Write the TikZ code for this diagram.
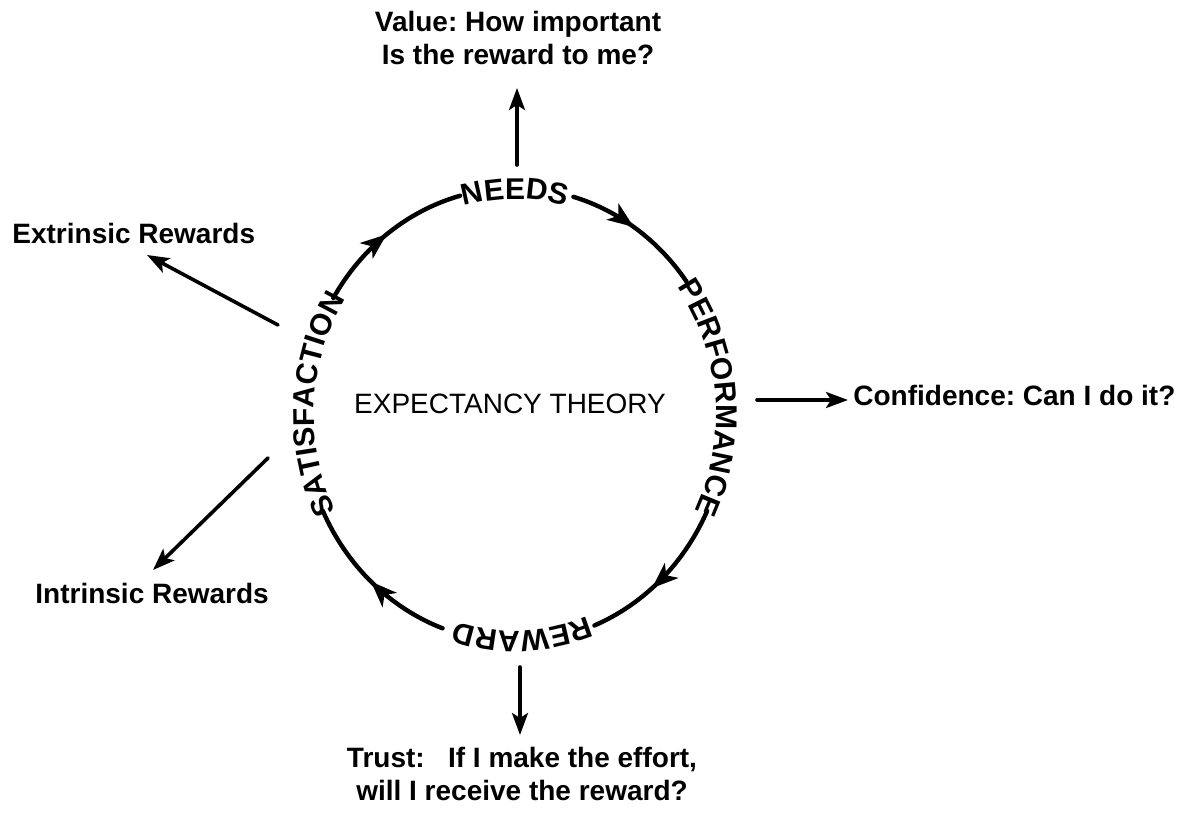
\documentclass[tikz,border=0pt]{standalone}
\usepackage{fontspec}
\setmainfont{Liberation Sans}
\frenchspacing
\usetikzlibrary{arrows.meta,decorations.text,decorations.markings}
\newcommand\ringfont{\fontsize{15}{15}\selectfont\bfseries}
\begin{document}
\begin{tikzpicture}[x=0.5pt,y=0.5pt,
  ring/.style={line width=2.2pt, line cap=round},
  midarrow/.style={postaction={decorate}, decoration={markings,
      mark=at position #1 with {\arrow{Stealth[length=13pt,width=10pt,inset=3.5pt]}}}},
  arr/.style={line width=1.8pt, line cap=round, -{Stealth[length=11pt,width=8pt,inset=2.5pt]}},
  lbl/.style={font=\fontsize{14}{16.5}\selectfont\bfseries, inner sep=0pt},
  ringlabel/.style={decorate, decoration={text along path, text={|\ringfont|#1},
      text align=center, raise=0pt}},
]
\useasboundingbox[fill=white] (0,0) rectangle (1189,816);
\coordinate (C) at (515,401);

% ring segments (clockwise)
\draw[ring, midarrow=0.5]  ([shift={(149:212 and 227)}]C)  arc[start angle=149,  end angle=105,  x radius=212, y radius=227];
\draw[ring, midarrow=0.47] ([shift={(74:212 and 227)}]C)   arc[start angle=74,   end angle=36,   x radius=212, y radius=227];
\draw[ring, midarrow=0.58] ([shift={(-25:212 and 227)}]C)  arc[start angle=-25,  end angle=-68,  x radius=212, y radius=227];
\draw[ring, midarrow=0.5]  ([shift={(-110:212 and 227)}]C) arc[start angle=-110, end angle=-155, x radius=212, y radius=227];

% ring labels (baseline on an inner ellipse so the letters are centred on the ring)
\path[ringlabel=NEEDS]        ([shift={(135:201 and 216)}]C) arc[start angle=135, end angle=45,   x radius=201, y radius=216];
\path[ringlabel=PERFORMANCE]  ([shift={(50:201 and 216)}]C)  arc[start angle=50,  end angle=-40,  x radius=201, y radius=216];
\path[ringlabel=REWARD]       ([shift={(-43:201 and 216)}]C) arc[start angle=-43, end angle=-133, x radius=201, y radius=216];
\path[ringlabel=SATISFACTION] ([shift={(222:201 and 216)}]C) arc[start angle=222, end angle=132,  x radius=201, y radius=216];

% centre title
\node[font=\fontsize{14}{16}\selectfont, inner sep=0pt, anchor=base] (theory) at (510,403) {EXPECTANCY THEORY};

% value (top)
\node[lbl, align=center, anchor=north] (value) at (518,805) {Value: How important\\Is the reward to me?};
\coordinate (needsOut) at (517,651);
\coordinate (valueTip) at (517,728);
\draw[arr] (needsOut) -- (valueTip);

% extrinsic
\node[lbl, anchor=base west] (extr) at (12,573) {Extrinsic Rewards};
\coordinate (satOutA) at (278,491);
\coordinate (extrTip) at (147,561);
\draw[arr] (satOutA) -- (extrTip);

% intrinsic
\node[lbl, anchor=base west] (intr) at (35,213) {Intrinsic Rewards};
\coordinate (satOutB) at (268,358);
\coordinate (intrTip) at (153,246);
\draw[arr] (satOutB) -- (intrTip);

% confidence
\node[lbl, anchor=base west] (conf) at (853,411) {Confidence: Can I do it?};
\coordinate (perfOut) at (757,416);
\coordinate (confTip) at (848,416);
\draw[arr] (perfOut) -- (confTip);

% trust (bottom)
\node[lbl, align=center, anchor=north] (trust) at (522,69) {Trust:\ \ \ If I make the effort,\\will I receive the reward?};
\coordinate (rewOut) at (520,149);
\coordinate (trustTip) at (520,81);
\draw[arr] (rewOut) -- (trustTip);
\end{tikzpicture}
\end{document}
